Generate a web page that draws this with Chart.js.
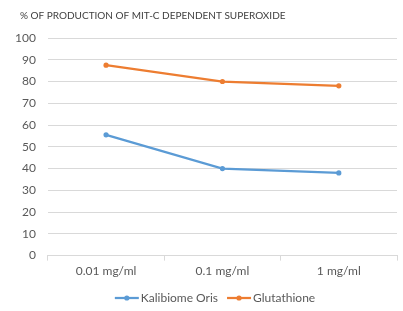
<!DOCTYPE html>
<html><head><meta charset="utf-8">
<script src="https://cdn.jsdelivr.net/npm/chart.js@4"></script>
<style>html,body{margin:0;padding:0;background:#fff}#w{width:403px;height:311px}</style>
</head><body><div id="w"><canvas id="c"></canvas></div>
<script>
const categories = ['0.01 mg/ml', '0.1 mg/ml', '1 mg/ml'];
const kalibiome = [55.5, 40, 38];
const glutathione = [87.5, 80, 78];
const yTicks = [0, 10, 20, 30, 40, 50, 60, 70, 80, 90, 100];
const titleText = '% OF PRODUCTION OF MIT-C DEPENDENT SUPEROXIDE';
const seriesNames = ['Kalibiome Oris', 'Glutathione'];
const colors = ['#5B9BD5', '#ED7D31'];

const titlePlugin = {
  id: 'customTitle',
  afterDraw(chart) {
    const g = chart.ctx;
    g.save();
    g.font = '10px Lato';
    g.fillStyle = '#404040';
    g.textBaseline = 'middle';
    g.textAlign = 'left';
    g.fillText(titleText, 20, 16);
    g.restore();
  }
};

const legendPlugin = {
  id: 'customLegend',
  afterDraw(chart) {
    const g = chart.ctx;
    g.save();
    g.font = '12px Lato';
    g.textBaseline = 'middle';
    g.textAlign = 'left';
    const iconW = 24, gapIT = 2, gapItems = 9, y = 298;
    const items = chart.data.datasets.map((d, i) => ({text: d.label, color: d.borderColor, w: g.measureText(d.label).width}));
    let total = 0;
    items.forEach((it, i) => { total += iconW + gapIT + it.w + (i < items.length - 1 ? gapItems : 0); });
    let x = 215 - total / 2;
    items.forEach((it) => {
      g.strokeStyle = it.color; g.lineWidth = 2.25;
      g.beginPath(); g.moveTo(x, y); g.lineTo(x + iconW, y); g.stroke();
      g.fillStyle = it.color; g.beginPath(); g.arc(x + iconW / 2, y, 2.6, 0, Math.PI * 2); g.fill();
      x += iconW + gapIT;
      g.fillStyle = '#595959';
      g.fillText(it.text, x, y + 0.5);
      x += it.w + gapItems;
    });
    g.restore();
  }
};

new Chart(document.getElementById('c'), {
  type: 'line',
  data: {
    labels: categories,
    datasets: [
      {label: seriesNames[0], data: kalibiome, borderColor: colors[0], backgroundColor: colors[0], borderWidth: 2.25, pointStyle: 'circle', pointRadius: 2.6, pointBorderWidth: 0, pointHoverRadius: 2.6},
      {label: seriesNames[1], data: glutathione, borderColor: colors[1], backgroundColor: colors[1], borderWidth: 2.25, pointStyle: 'circle', pointRadius: 2.6, pointBorderWidth: 0, pointHoverRadius: 2.6}
    ]
  },
  plugins: [titlePlugin, legendPlugin],
  options: {
    responsive: true, maintainAspectRatio: false, animation: false,
    layout: {padding: {left: 3, right: 6, top: 38, bottom: 30}},
    plugins: {
      title: {display: false},
      legend: {display: false},
      tooltip: {enabled: false}
    },
    scales: {
      x: {offset: true,
        grid: {offset: true, drawOnChartArea: false, drawTicks: true, tickLength: 5, color: '#d9d9d9'},
        border: {color: '#d9d9d9'},
        ticks: {color: '#595959', font: {family: 'Lato', size: 12}, padding: 3}},
      y: {min: 0, max: 100,
        afterBuildTicks: (s) => { s.ticks = yTicks.map(v => ({value: v})); },
        grid: {color: '#d9d9d9', drawTicks: false},
        border: {display: false},
        ticks: {color: '#595959', font: {family: 'Lato', size: 12}, padding: 12}}
    }
  }
});
</script></body></html>
